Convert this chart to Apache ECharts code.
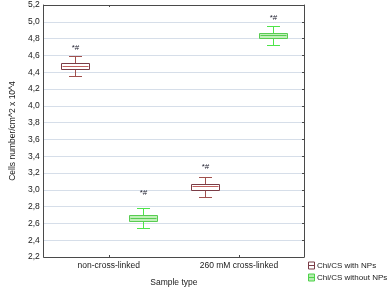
<!DOCTYPE html>
<html>
<head>
<meta charset="utf-8">
<script src="https://cdn.jsdelivr.net/npm/echarts@6/dist/echarts.min.js"></script>
<style>
html,body{margin:0;padding:0;background:#fff;}
#chart{width:392px;height:292px;}
</style>
</head>
<body>
<div id="chart"></div>
<script>
// ---- data ----
const categories = ['non-cross-linked', '260 mM cross-linked'];
const seriesNames = ['Chi/CS with NPs', 'Chi/CS without NPs'];
// [whiskerLow, q1, median, q3, whiskerHigh]
const withNPs = [
  [4.35, 4.44, 4.47, 4.51, 4.59],
  [2.92, 3.00, 3.04, 3.07, 3.15]
];
const withoutNPs = [
  [2.55, 2.63, 2.665, 2.70, 2.78],
  [4.72, 4.81, 4.84, 4.87, 4.95]
];
// value at which the significance marks are printed
const withNPsMarkY = [4.69, 3.27];
const withoutNPsMarkY = [2.96, 5.05];
const markText = '*#';
const yTicks = [2.2, 2.4, 2.6, 2.8, 3.0, 3.2, 3.4, 3.6, 3.8, 4.0, 4.2, 4.4, 4.6, 4.8, 5.0, 5.2];
const yTickLabels = ['2,2','2,4','2,6','2,8','3,0','3,2','3,4','3,6','3,8','4,0','4,2','4,4','4,6','4,8','5,0','5,2'];

const FONT = "'Liberation Sans', Arial, sans-serif";

function buildRows(stats, marks) {
  return stats.map((s, i) => [i].concat(s).concat([marks[i]]));
}

function makeRenderer(offset, sty) {
  return function (params, api) {
    const cat = api.value(0);
    const pLow = api.coord([cat, api.value(1)]);
    const pQ1 = api.coord([cat, api.value(2)]);
    const pMed = api.coord([cat, api.value(3)]);
    const pQ3 = api.coord([cat, api.value(4)]);
    const pHigh = api.coord([cat, api.value(5)]);
    const pMark = api.coord([cat, api.value(6)]);
    const x = Math.round(pMed[0] + offset) + 0.5;
    const bw = 28, cw = 13;
    const r = v => Math.round(v) + 0.5;
    return {
      type: 'group',
      children: [
        {type: 'line', shape: {x1: x, y1: r(pQ3[1]), x2: x, y2: r(pHigh[1])}, style: {stroke: sty.whisker, lineWidth: 1}},
        {type: 'line', shape: {x1: x, y1: r(pQ1[1]), x2: x, y2: r(pLow[1])}, style: {stroke: sty.whisker, lineWidth: 1}},
        {type: 'line', shape: {x1: x - cw / 2, y1: r(pHigh[1]), x2: x + cw / 2, y2: r(pHigh[1])}, style: {stroke: sty.whisker, lineWidth: 1}},
        {type: 'line', shape: {x1: x - cw / 2, y1: r(pLow[1]), x2: x + cw / 2, y2: r(pLow[1])}, style: {stroke: sty.whisker, lineWidth: 1}},
        {type: 'rect', shape: {x: x - bw / 2, y: r(pQ3[1]), width: bw, height: Math.round(pQ1[1]) - Math.round(pQ3[1])}, style: {fill: sty.fill, stroke: sty.border, lineWidth: 1}},
        {type: 'line', shape: {x1: x - bw / 2 + 1, y1: r(pMed[1]), x2: x + bw / 2 - 1, y2: r(pMed[1])}, style: {stroke: sty.median, lineWidth: 1}},
        {type: 'text', x: x, y: pMark[1], style: {text: markText, fill: '#1e1e2e', font: '8px ' + FONT, align: 'center', verticalAlign: 'middle'}}
      ]
    };
  };
}

const redStyle = {whisker: '#a0504e', border: '#7a3c46', fill: '#ffffff', median: '#c0605e'};
const greenStyle = {whisker: '#4ee44a', border: '#58cc52', fill: '#c2f0ba', median: '#58cc52'};

const chart = echarts.init(document.getElementById('chart'), null, {renderer: 'canvas'});
const axisCol = '#4a4a4a';
const txtCol = '#1a1a1a';
const option = {
  animation: false,
  backgroundColor: '#fff',
  textStyle: {fontFamily: FONT},
  grid: {left: 31.5, right: 88, top: 5, bottom: 30, containLabel: false},
  legend: {
    orient: 'vertical',
    left: 308, top: 261.5, padding: 0,
    itemWidth: 7, itemHeight: 7, itemGap: 4,
    textStyle: {fontSize: 8, color: txtCol, fontFamily: FONT, padding: [0, 0, 0, -3]},
    data: [
      {name: seriesNames[0], icon: 'path://M0,0H6V7H0ZM0,3.5H6', itemStyle: {color: '#ffffff', borderColor: '#7a3c46', borderWidth: 1}},
      {name: seriesNames[1], icon: 'path://M0,0H6V7H0ZM0,3.5H6', itemStyle: {color: '#b5eeb0', borderColor: '#4fd24a', borderWidth: 1}}
    ]
  },
  xAxis: [{
    type: 'category', data: categories, position: 'bottom',
    name: 'Sample type', nameLocation: 'middle', nameGap: 21,
    nameTextStyle: {fontSize: 8.5, color: txtCol, fontFamily: FONT},
    axisLine: {show: true, lineStyle: {color: axisCol, width: 1}},
    axisTick: {show: true, inside: true, alignWithLabel: true, length: 2, lineStyle: {color: axisCol}},
    axisLabel: {fontSize: 8.5, color: txtCol, margin: 4, fontFamily: FONT},
    splitLine: {show: false}
  }, {
    type: 'category', data: categories, position: 'top',
    axisLine: {show: true, lineStyle: {color: axisCol, width: 1}},
    axisTick: {show: true, inside: true, alignWithLabel: true, length: 2, lineStyle: {color: axisCol}},
    axisLabel: {show: false}, splitLine: {show: false}
  }],
  yAxis: [{
    type: 'value', min: 2.2, max: 5.2, interval: 0.2, position: 'left',
    name: 'Cells number/cm^2 x 10^4', nameLocation: 'middle', nameGap: 20, nameRotate: 90,
    nameTextStyle: {fontSize: 8.5, color: txtCol, fontFamily: FONT},
    axisLine: {show: true, lineStyle: {color: axisCol, width: 1}},
    axisTick: {show: false},
    axisLabel: {fontSize: 8.5, color: txtCol, margin: 4, fontFamily: FONT,
      formatter: function (v) { const i = yTicks.findIndex(t => Math.abs(t - v) < 1e-6); return i >= 0 ? yTickLabels[i] : ''; }},
    splitLine: {show: true, lineStyle: {color: '#d6dee9', width: 1}}
  }, {
    type: 'value', min: 2.2, max: 5.2, interval: 0.2, position: 'right',
    axisLine: {show: true, lineStyle: {color: axisCol, width: 1}},
    axisTick: {show: true, inside: true, length: 2, lineStyle: {color: axisCol}},
    axisLabel: {show: false}, splitLine: {show: false}
  }],
  series: [{
    name: seriesNames[0], type: 'custom', xAxisIndex: 0, yAxisIndex: 0,
    itemStyle: {color: '#7a3c46'},
    renderItem: makeRenderer(-34, redStyle),
    encode: {x: 0, y: [1, 2, 3, 4, 5, 6]},
    data: buildRows(withNPs, withNPsMarkY)
  }, {
    name: seriesNames[1], type: 'custom', xAxisIndex: 0, yAxisIndex: 0,
    itemStyle: {color: '#4fd24a'},
    renderItem: makeRenderer(34, greenStyle),
    encode: {x: 0, y: [1, 2, 3, 4, 5, 6]},
    data: buildRows(withoutNPs, withoutNPsMarkY)
  }]
};
chart.setOption(option);
</script>
</body>
</html>
